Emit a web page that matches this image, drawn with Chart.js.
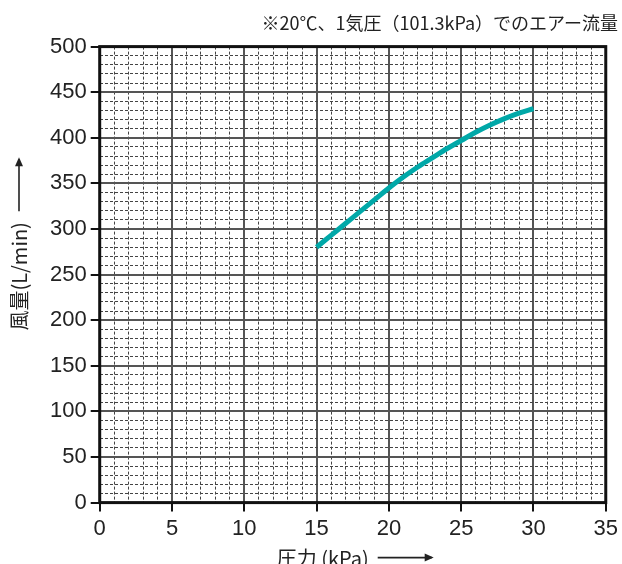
<!DOCTYPE html>
<html>
<head>
<meta charset="utf-8">
<script src="https://cdn.jsdelivr.net/npm/chart.js@4"></script>
<style>
  html, body { margin: 0; padding: 0; background: #fff; }
  #wrap { width: 622px; height: 564px; }
</style>
</head>
<body>
<div id="wrap"><canvas id="flowChart"></canvas></div>
<script>
// 圧力 (kPa) と 風量 (L/min)
const pressure = [15, 16, 17, 18, 19, 20, 21, 22, 23, 24, 25, 26, 27, 28, 29, 30];
const flow = [280, 293, 306, 319, 332, 345, 357, 368, 378, 388, 397, 406, 414, 421, 427, 432];

const chartTitle = '※20℃、1気圧（101.3kPa）でのエアー流量 ';
const xTitle = '圧力 (kPa)';
const yTitle = '風量(L/min)';

const jpFont = '"Noto Sans CJK JP", sans-serif';
const numFont = '"Liberation Sans", Arial, sans-serif';

// 枠と軸タイトル(矢印付き)
const frameAndTitles = {
    id: 'frameAndTitles',
    afterDraw(chart) {
        const { ctx, chartArea: a } = chart;
        ctx.save();
        ctx.strokeStyle = '#111';
        ctx.lineWidth = 3;
        ctx.strokeRect(a.left, a.top, a.right - a.left, a.bottom - a.top);

        ctx.fillStyle = '#222';
        ctx.strokeStyle = '#222';
        ctx.lineWidth = 1.6;
        ctx.font = '20px ' + jpFont;
        ctx.textBaseline = 'middle';
        ctx.textAlign = 'left';

        // x 軸タイトル
        const xw = ctx.measureText(xTitle).width;
        const xs = a.left + 177, xy = a.bottom + 56;
        ctx.fillText(xTitle, xs, xy);
        drawArrow(ctx, xs + xw + 9, xy - 1, 56);

        // y 軸タイトル
        const yw = ctx.measureText(yTitle).width;
        ctx.translate(19, a.bottom - 172);
        ctx.rotate(-Math.PI / 2);
        ctx.fillText(yTitle, 0, 0);
        drawArrow(ctx, yw + 11, 0, 54);
        ctx.restore();
    }
};

function drawArrow(ctx, x, y, len) {
    ctx.beginPath();
    ctx.moveTo(x, y);
    ctx.lineTo(x + len - 2, y);
    ctx.stroke();
    ctx.beginPath();
    ctx.moveTo(x + len, y);
    ctx.lineTo(x + len - 9, y - 4);
    ctx.lineTo(x + len - 9, y + 4);
    ctx.closePath();
    ctx.fill();
}

const isMajor = (ctx, step) => ctx.tick && Math.round(ctx.tick.value) % step === 0;

const ctx = document.getElementById('flowChart').getContext('2d');
const chart = new Chart(ctx, {
    type: 'line',
    data: {
        datasets: [{
            data: pressure.map((p, i) => ({ x: p, y: flow[i] })),
            borderColor: '#00a8a8',
            borderWidth: 5,
            pointRadius: 0,
            cubicInterpolationMode: 'monotone',
            fill: false
        }]
    },
    options: {
        responsive: true,
        maintainAspectRatio: false,
        animation: false,
        layout: { padding: { left: 46, right: 0, top: 0, bottom: 18 } },
        plugins: {
            legend: { display: false },
            tooltip: { enabled: false },
            title: {
                display: true,
                text: chartTitle,
                align: 'end',
                color: '#222',
                font: { family: jpFont, size: 18, weight: 'normal' },
                padding: { top: 12, bottom: 13 }
            }
        },
        scales: {
            x: {
                type: 'linear',
                min: 0,
                max: 35,
                border: {
                    display: false,
                    dash: c => isMajor(c, 5) ? [] : [3, 2]
                },
                grid: {
                    color: c => isMajor(c, 5) ? '#555' : '#444',
                    lineWidth: c => isMajor(c, 5) ? 2 : 1,
                    tickColor: c => isMajor(c, 5) ? '#111' : 'rgba(0,0,0,0)',
                    tickLength: 9,
                    tickWidth: 2
                },
                ticks: {
                    stepSize: 1,
                    autoSkip: false,
                    maxRotation: 0,
                    padding: 4,
                    color: '#222',
                    font: { family: numFont, size: 22 },
                    callback: v => v % 5 === 0 ? String(v) : ''
                }
            },
            y: {
                type: 'linear',
                min: 0,
                max: 500,
                border: {
                    display: false,
                    dash: c => isMajor(c, 50) ? [] : [3, 2]
                },
                grid: {
                    color: c => isMajor(c, 50) ? '#555' : '#444',
                    lineWidth: c => isMajor(c, 50) ? 2 : 1,
                    tickColor: c => isMajor(c, 50) ? '#111' : 'rgba(0,0,0,0)',
                    tickLength: 9,
                    tickWidth: 2
                },
                ticks: {
                    stepSize: 10,
                    autoSkip: false,
                    padding: 4,
                    color: '#222',
                    font: { family: numFont, size: 22 },
                    callback: v => v % 50 === 0 ? String(v) : ''
                }
            }
        }
    },
    plugins: [frameAndTitles]
});
</script>
</body>
</html>
